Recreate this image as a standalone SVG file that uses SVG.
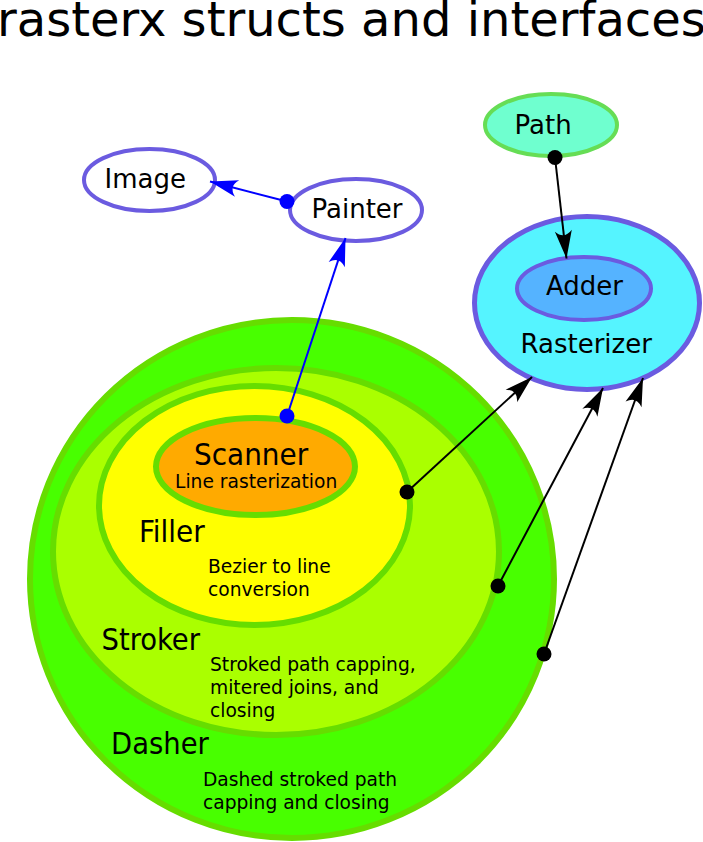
<svg xmlns="http://www.w3.org/2000/svg" width="703" height="842" viewBox="0 0 703 842">
<defs>
<style>
text{font-family:"DejaVu Sans","Liberation Sans",sans-serif;fill:#000}
.lbl{font-size:26px}
.big{font-family:"DejaVu Sans Condensed","DejaVu Sans",sans-serif;font-stretch:condensed;font-size:30.5px}
.desc{font-size:18.67px}
.pur{stroke:#6b5be0;stroke-width:4}
.grn{stroke:#66dd00;stroke-width:6}
.blue{fill:none;stroke:#0000ff;stroke-width:2;marker-start:url(#dotB);marker-end:url(#arrB)}
.blk{fill:none;stroke:#000;stroke-width:2;marker-start:url(#dotK);marker-end:url(#arrK)}
</style>
<marker id="arrB" markerUnits="userSpaceOnUse" orient="auto" markerWidth="34" markerHeight="24" viewBox="-31 -12 34 24" refX="0" refY="0"><path d="M0,0 L-28,-8.5 Q-19,0 -28,8.5 Z" fill="#0000ff"/></marker>
<marker id="arrK" markerUnits="userSpaceOnUse" orient="auto" markerWidth="34" markerHeight="24" viewBox="-31 -12 34 24" refX="0" refY="0"><path d="M0,0 L-28,-8.5 Q-19,0 -28,8.5 Z" fill="#000"/></marker>
<marker id="dotB" markerUnits="userSpaceOnUse" markerWidth="20" markerHeight="20" viewBox="-10 -10 20 20" refX="0" refY="0"><circle r="7.5" fill="#0000ff"/></marker>
<marker id="dotK" markerUnits="userSpaceOnUse" markerWidth="20" markerHeight="20" viewBox="-10 -10 20 20" refX="0" refY="0"><circle r="7.5" fill="#000"/></marker>
</defs>
<rect width="703" height="842" fill="#fff"/>
<text x="-3" y="36" style="font-size:48px">rasterx structs and interfaces</text>

<g id="dasher">
<ellipse cx="292" cy="579" rx="262" ry="259" fill="#48ff00" class="grn"/>
<text x="111" y="754" class="big">Dasher</text>
<text class="desc"><tspan x="203" y="785.5">Dashed stroked path</tspan><tspan x="203" y="808.5">capping and closing</tspan></text>
</g>
<g id="stroker">
<ellipse cx="276" cy="551.5" rx="223" ry="183.5" fill="#aaff00" class="grn"/>
<text x="101.5" y="650" class="big">Stroker</text>
<text class="desc"><tspan x="210" y="670.5">Stroked path capping,</tspan><tspan x="210" y="693.5">mitered joins, and</tspan><tspan x="210" y="716.5">closing</tspan></text>
</g>
<g id="filler">
<ellipse cx="254.5" cy="505.5" rx="155.5" ry="119.5" fill="#ffff00" class="grn"/>
<text x="139" y="542" class="big" style="font-size:31px">Filler</text>
<text class="desc"><tspan x="208" y="573">Bezier to line</tspan><tspan x="208" y="596">conversion</tspan></text>
</g>
<g id="scanner">
<ellipse cx="255.5" cy="466.5" rx="99.5" ry="48.5" fill="#ffaa00" class="grn"/>
<text x="194" y="465" class="big" style="font-size:31px">Scanner</text>
<text x="175" y="488" class="desc">Line rasterization</text>
</g>
<g id="image">
<ellipse cx="149.5" cy="180" rx="65.5" ry="31" fill="#fff" class="pur"/>
<text x="104.5" y="188" class="lbl">Image</text>
</g>
<g id="painter">
<ellipse cx="356" cy="210" rx="66" ry="31" fill="#fff" class="pur"/>
<text x="311.5" y="218" class="lbl">Painter</text>
</g>
<g id="path">
<ellipse cx="551" cy="125" rx="66" ry="31" fill="#6fffcf" stroke="#66dd55" stroke-width="4"/>
<text x="514.5" y="133.5" class="lbl">Path</text>
</g>
<g id="rasterizer">
<ellipse cx="587" cy="303" rx="112.5" ry="86.5" fill="#55f4ff" stroke="#6b5be0" stroke-width="5"/>
<text x="520.5" y="353" class="lbl">Rasterizer</text>
</g>
<g id="adder">
<ellipse cx="584" cy="288.5" rx="67" ry="31.5" fill="#55b3ff" class="pur"/>
<text x="546" y="295" class="lbl">Adder</text>
</g>

<g id="connectors">
<path class="blue" d="M287,201.5 L210,181.5"/>
<path class="blue" d="M287,416 L345.5,238"/>
<path class="blk" d="M555,157.5 L566.5,258.5"/>
<path class="blk" d="M407,492 L532,377"/>
<path class="blk" d="M498,586 L603,388"/>
<path class="blk" d="M544,654 L643,378"/>
</g>
</svg>
